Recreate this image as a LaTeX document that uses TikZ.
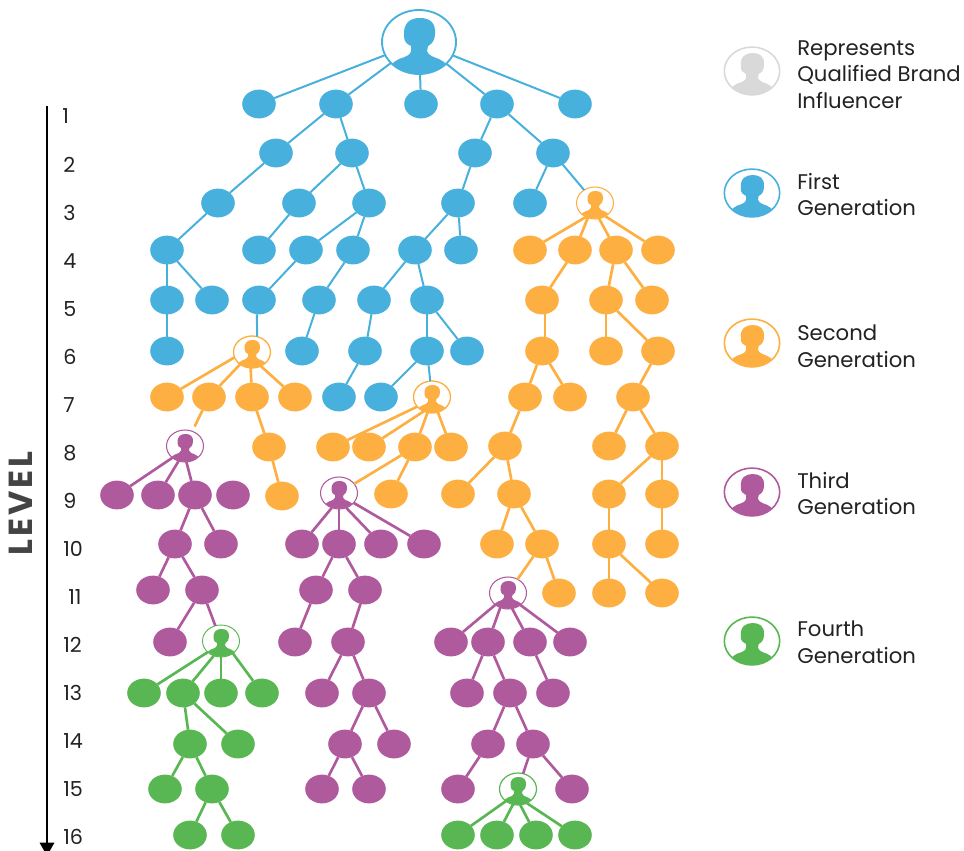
\documentclass[tikz,border=0pt]{standalone}
\usepackage{fontspec}
\setmainfont{Poppins}
\usetikzlibrary{shapes.geometric,arrows.meta}
\definecolor{cblue}{HTML}{47B0DC}
\definecolor{corange}{HTML}{FDAF42}
\definecolor{cpurple}{HTML}{B05A9E}
\definecolor{cgreen}{HTML}{59B753}
\definecolor{cgrey}{HTML}{D9D9D9}
\definecolor{ctext}{HTML}{222222}
\definecolor{clevel}{HTML}{444444}
\tikzset{
  bub/.style={ellipse,inner sep=0pt,outer sep=0pt,minimum width=25.2pt,minimum height=21.6pt},
  bubblue/.style={bub,fill=cblue},
  buborange/.style={bub,fill=corange},
  bubpurple/.style={bub,fill=cpurple},
  bubgreen/.style={bub,fill=cgreen},
  lblue/.style={draw=cblue,line width=1.5pt},
  lorange/.style={draw=corange,line width=2pt},
  lpurple/.style={draw=cpurple,line width=2pt},
  lgreen/.style={draw=cgreen,line width=2pt},
  lvl/.style={anchor=west,inner sep=0pt,text=ctext,font=\fontsize{15.5}{18}\selectfont},
  legtext/.style={anchor=west,inner sep=0pt,align=left,text=ctext,font=\fontsize{15.9}{20}\selectfont},
  ring/.style={ellipse,inner sep=0pt,outer sep=0pt,fill=white}
}
\newcommand\personnode[6]{%
  \node[ring,draw=#5,line width=#6,minimum width=#4*1.5pt,minimum height=#4*1.297pt] (#1) at (#2,#3) {};
  \begin{scope}[shift={(#2,#3)},scale=#4/37]
    \clip (0,0) ellipse [x radius=36.6,y radius=31.6];
    \fill[#5] (-8,4) .. controls (-12,2) and (-15,0) .. (-15,-6)
      .. controls (-16,-20) and (-8,-24) .. (1,-24)
      .. controls (10,-24) and (17,-20) .. (16,-8)
      .. controls (16,-2) and (13,2) .. (9,4)
      -- (8,9) .. controls (9,13) and (14,15) .. (20,17)
      -- (25,20) -- (40,40) -- (-40,40) -- (-25,20) -- (-20,17)
      .. controls (-14,15) and (-8,13) .. (-8,9) -- cycle;
  \end{scope}}
\begin{document}
\begin{tikzpicture}[x=0.75pt,y=-0.75pt]
\useasboundingbox (0,0) rectangle (964,850);
\clip (0,0) rectangle (964,850);

% persons
\personnode{root}{419}{42}{37}{cblue}{1.4pt}
\personnode{Oa}{595}{203}{18.5}{corange}{0.8pt}
\personnode{Ob}{252}{352}{18.5}{corange}{1pt}
\personnode{Oc}{432}{397}{18.5}{corange}{1pt}
\personnode{Pa}{185}{446}{18.5}{cpurple}{0.8pt}
\personnode{Pb}{339}{493}{18.5}{cpurple}{0.8pt}
\personnode{Pc}{508}{593}{18.5}{cpurple}{0.8pt}
\personnode{Ga}{221}{641}{18.5}{cgreen}{0.7pt}
\personnode{Gb}{518}{789}{18.5}{cgreen}{0.9pt}

% blue
\foreach \n/\x/\y in {a1/259/104,a2/336/104,a3/421/104,a4/497/104,a5/575/104,
  b1/276/153,b2/352/153,b3/475/153,b4/553/153,
  c1/218/203,c2/299/203,c3/369/203,c4/458/203,c5/530/203,
  d1/167/250,d2/259/250,d3/306/250,d4/353/250,d5/415/250,d6/461/250,
  f1/167/300,f2/212/300,f3/259/300,f4/319/300,f5/374/300,f6/427/300,
  h1/167/351,h3/302/351,h4/365/351,h5/427/351,h6/467/351,
  k1/339/397,k2/381/397}
  \node[bubblue] (\n) at (\x,\y) {};
% orange
\foreach \n/\x/\y in {e1/530/250,e2/575/250,e3/616/250,e4/658/250,
  g1/542/300,g2/606/300,g3/652/300,
  i1/542/351,i2/606/351,i3/658/351,
  j1/167/397,j2/209/397,j3/252/397,j4/295/397,
  l1/525/397,l2/570/397,l3/633/397,
  m/269/447,n1/333/447,n2/369/447,n3/415/447,n4/451/447,
  o1/505/446,o2/609/446,o3/662/446,
  r/282/496,s/391/494,t1/458/494,t2/514/494,u1/609/494,u2/662/494,
  x1/497/544,x2/542/544,y1/609/544,y2/662/544,
  ab/559/593,ac1/609/593,ac2/662/593}
  \node[buborange] (\n) at (\x,\y) {};
% purple
\foreach \n/\x/\y in {q1/117/495,q2/158/495,q3/195/495,q4/233/495,
  v1/175/544,v2/221/544,w1/302/544,w2/339/544,w3/381/544,w4/424/544,
  z1/153/590,z2/202/590,aa1/316/590,aa2/365/590,
  ad1/170/642,ae1/295/642,ae2/348/642,af1/451/642,af2/488/642,af3/530/642,af4/570/642,
  ah1/322/693,ah2/369/693,ai1/467/693,ai2/510/693,ai3/553/693,
  ak1/345/744,ak2/394/744,al1/488/744,al2/533/744,
  an1/322/789,an2/369/789,ao1/458/789,ao3/572/789}
  \node[bubpurple] (\n) at (\x,\y) {};
% green
\foreach \n/\x/\y in {ag1/144/693,ag2/183/693,ag3/221/693,ag4/262/693,
  aj1/190/744,aj2/238/744,am1/165/789,am2/212/789,ap1/190/835,ap2/238/835,
  aq1/458/835,aq2/497/835,aq3/536/835,aq4/575/835}
  \node[bubgreen] (\n) at (\x,\y) {};

% connectors
\foreach \a/\b in {root/a1,root/a2,root/a3,root/a4,root/a5,
  a2/b1,a2/b2,a4/b3,a4/b4,b1/c1,b2/c2,b2/c3,b3/c4,b4/c5,b4/Oa,
  c1/d1,c2/d2,c3/d3,c3/d4,c4/d5,c4/d6,
  d1/f1,d1/f2,d3/f3,d4/f4,d5/f5,d5/f6,
  f1/h1,f3.262/Ob.72,f4/h3,f5/h4,f6/h5,f6/h6,h4/k1,h5/k2,h5/Oc}
  \draw[lblue] (\a) -- (\b);
\foreach \a/\b in {Oa.237/e1,Oa.244/e2,Oa.285/e3,Oa.308/e4,
  e2/g1,e3/g2,e3/g3,g1.282/i1.78,g2/i2,g2/i3,i1/l1,i1/l2,i3/l3,
  l1/o1,l3/o2,l3/o3,o1/t1,o1/t2,t2/x1,t2/x2,x2/Pc,x2/ab,
  o3/u1,o3/u2,u1/y1,u2/y2,y1/ac1,y1/ac2,
  Ob.197/j1,Ob.226/j2,Ob.265/j3,Ob.302/j4,j3/m,m/r,
  Oc.213/n1,Oc.240/n2,Oc.254/n3,Oc.291/n4,n3/Pb,n3/s}
  \draw[lorange] (\a) -- (\b);
\draw[lorange,shorten >=4pt] (j2) -- (Pa);
\foreach \a/\b in {Pa.223/q1,Pa.247/q2,Pa.275/q3,
  q3/v1,q3/v2,v1/z1,v1/z2,z2/ad1,z2/Ga,
  Pb.244/w1,Pb.270/w2,Pb.296/w3,Pb.326/w4,
  w2/aa1,w2/aa2,aa1/ae1,aa2/ae2,ae2/ah1,ae2/ah2,ah2/ak1,ah2/ak2,ak1/an1,ak1/an2,
  Pc.223/af1,Pc.242/af2,Pc.285/af3,Pc.316/af4,
  af2/ai1,af2/ai2,af3/ai3,ai2/al1,ai2/al2,al1/ao1,al2/Gb,al2/ao3}
  \draw[lpurple] (\a) -- (\b);
\foreach \a/\b in {Ga.220/ag1,Ga.244/ag2,Ga.270/ag3,Ga.314/ag4,
  ag2/aj1,ag2/aj2,aj1/am1,aj1/am2,am2/ap1,am2/ap2,
  Gb.225/aq1,Gb.252/aq2,Gb.278/aq3,Gb.302/aq4}
  \draw[lgreen] (\a) -- (\b);

% level axis
\coordinate (axtop) at (47,106);
\coordinate (axend) at (47,856);
\draw[line width=2.2pt,black,-{Triangle[width=10.5pt,length=10pt]}] (axtop) -- (axend);
\foreach \t/\x/\y in {1/62/116,2/63/165,3/63/213,4/63/261,5/63/309,6/63/357,7/63/405,8/63/453,
  9/63/501,10/63/549,11/68/597,12/63/645,13/63/693,14/63/741,15/63/789,16/63/837}
  \node[lvl] (lv\t) at (\x,\y) {\t};
\node[rotate=90,inner sep=0pt,text=clevel,font=\fontsize{25}{30}\selectfont\bfseries\addfontfeature{LetterSpace=9}] (level) at (20.5,503.5) {LEVEL};

% legend
\personnode{lg0}{752}{71}{27.7}{cgrey}{1.2pt}
\personnode{lg1}{752}{193}{27.7}{cblue}{1.2pt}
\personnode{lg2}{752}{343}{27.7}{corange}{1.2pt}
\personnode{lg3}{752}{492}{27.7}{cpurple}{1.2pt}
\personnode{lg4}{752}{641}{27.7}{cgreen}{1.2pt}
\node[legtext] (t0) at (797,74.5) {Represents\\Qualified Brand\\Influencer};
\node[legtext] (t1) at (797,194.5) {First\\Generation};
\node[legtext] (t2) at (797,346.5) {Second\\Generation};
\node[legtext] (t3) at (797,493.5) {Third\\Generation};
\node[legtext] (t4) at (797,642.5) {Fourth\\Generation};
\end{tikzpicture}
\end{document}
